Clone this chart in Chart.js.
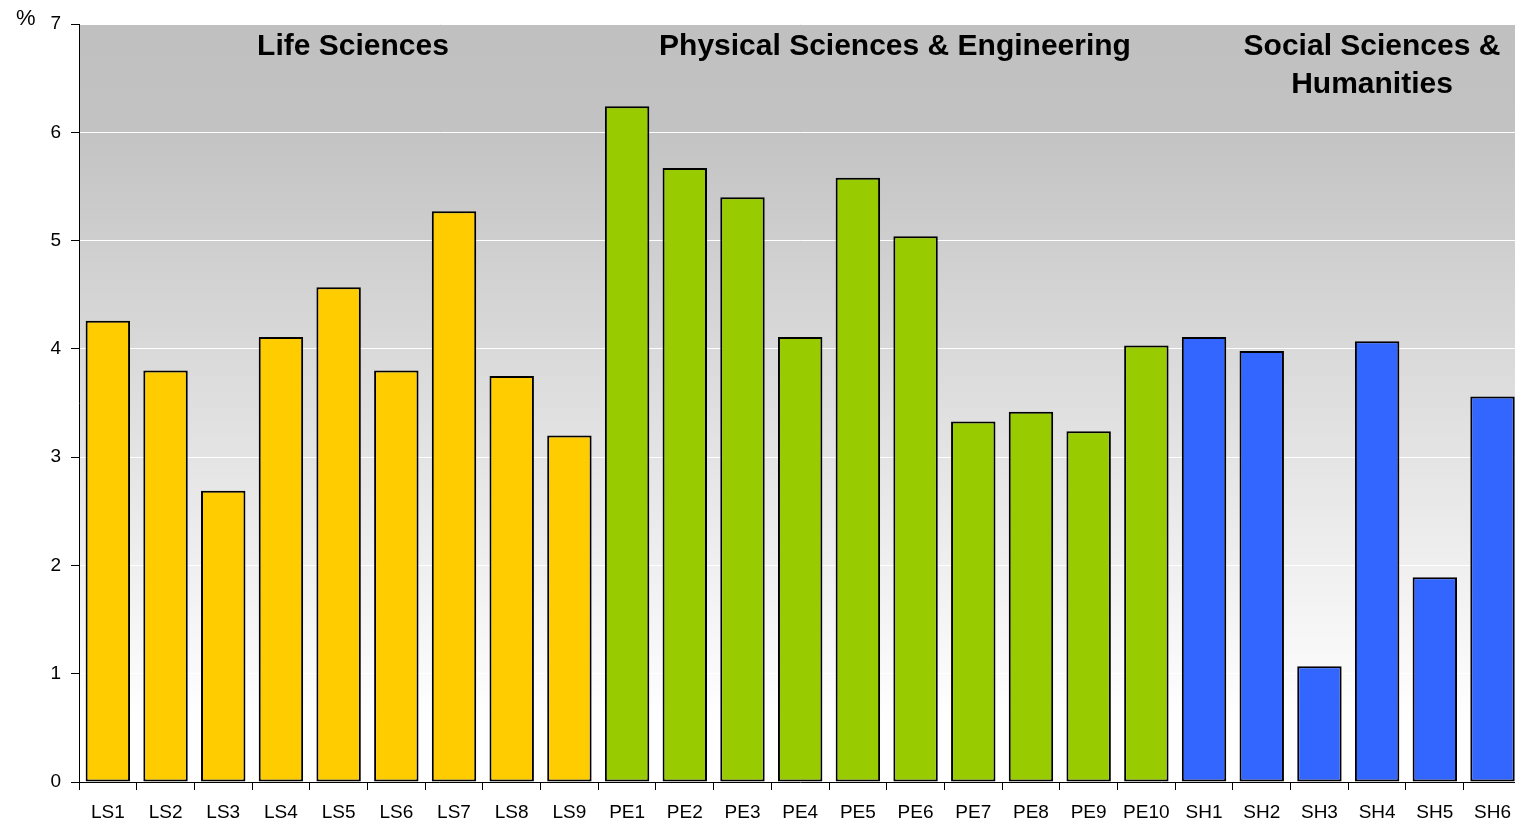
<!DOCTYPE html>
<html>
<head>
<meta charset="utf-8">
<script src="https://cdn.jsdelivr.net/npm/chart.js@4"></script>
<style>
  html, body { margin: 0; padding: 0; background: #fff; overflow: hidden; }
  #wrap { width: 1522px; height: 824px; position: relative; }
</style>
</head>
<body>
<div id="wrap"><canvas id="chart"></canvas></div>
<script>
// Share by panel (%)
const categories = ['LS1', 'LS2', 'LS3', 'LS4', 'LS5', 'LS6', 'LS7', 'LS8', 'LS9',
    'PE1', 'PE2', 'PE3', 'PE4', 'PE5', 'PE6', 'PE7', 'PE8', 'PE9', 'PE10',
    'SH1', 'SH2', 'SH3', 'SH4', 'SH5', 'SH6'];
const values = [4.26, 3.80, 2.69, 4.11, 4.57, 3.80, 5.27, 3.75, 3.20,
    6.24, 5.67, 5.40, 4.11, 5.58, 5.04, 3.33, 3.42, 3.24, 4.03,
    4.11, 3.98, 1.07, 4.07, 1.89, 3.56];
const groups = ['LS', 'PE', 'SH'];
const groupColors = { LS: '#ffcc00', PE: '#99cc00', SH: '#3366ff' };
const groupTitles = [
    { lines: ['Life Sciences'], x: 353 },
    { lines: ['Physical Sciences & Engineering'], x: 895 },
    { lines: ['Social Sciences &', 'Humanities'], x: 1372 }
];

const barColors = categories.map(c => groupColors[groups.find(g => c.startsWith(g))]);

const backgroundPlugin = {
    id: 'plotBackground',
    beforeDraw(chart) {
        const { ctx, chartArea: a } = chart;
        const grad = ctx.createLinearGradient(0, a.top, 0, a.bottom);
        grad.addColorStop(0, '#c0c0c0');
        grad.addColorStop(0.13, '#c2c2c2');
        grad.addColorStop(0.92, '#ffffff');
        grad.addColorStop(1, '#ffffff');
        ctx.save();
        ctx.fillStyle = grad;
        ctx.fillRect(a.left, a.top, a.right - a.left, a.bottom - a.top);
        ctx.restore();
    }
};

const titlesPlugin = {
    id: 'groupTitles',
    afterDatasetsDraw(chart) {
        const { ctx } = chart;
        ctx.save();
        ctx.font = 'bold 30px "Liberation Sans", Arial, sans-serif';
        ctx.fillStyle = '#000';
        ctx.textAlign = 'center';
        ctx.textBaseline = 'middle';
        groupTitles.forEach(t => {
            t.lines.forEach((line, i) => ctx.fillText(line, t.x, 47 + i * 38));
        });
        // unit label
        ctx.font = '22px "Liberation Sans", Arial, sans-serif';
        ctx.textAlign = 'left';
        ctx.fillText('%', 16, 19);
        ctx.restore();
    }
};

new Chart(document.getElementById('chart'), {
    type: 'bar',
    data: {
        labels: categories,
        datasets: [{
            data: values,
            backgroundColor: barColors,
            borderColor: '#000',
            borderWidth: 2,
            borderSkipped: false,
            barPercentage: 0.77,
            categoryPercentage: 1.0
        }]
    },
    options: {
        responsive: true,
        maintainAspectRatio: false,
        animation: false,
        layout: { padding: { top: 24, right: 0, bottom: 0, left: 0 } },
        plugins: {
            legend: { display: false },
            tooltip: { enabled: false }
        },
        scales: {
            x: {
                afterFit(scale) { scale.height = 42; },
                grid: {
                    offset: true,
                    drawOnChartArea: false,
                    drawTicks: true,
                    tickLength: 8,
                    tickColor: '#000'
                },
                border: { color: '#000', width: 1 },
                ticks: {
                    color: '#000',
                    padding: 11,
                    maxRotation: 0,
                    autoSkip: false,
                    font: { family: '"Liberation Sans", Arial, sans-serif', size: 19 }
                }
            },
            y: {
                min: 0,
                max: 7,
                afterFit(scale) { scale.width = 79; },
                grid: {
                    color: '#ffffff',
                    lineWidth: 1,
                    tickLength: 8,
                    tickColor: '#000'
                },
                border: { color: '#000', width: 1 },
                ticks: {
                    stepSize: 1,
                    color: '#000',
                    padding: 10,
                    font: { family: '"Liberation Sans", Arial, sans-serif', size: 19 }
                }
            }
        }
    },
    plugins: [backgroundPlugin, titlesPlugin]
});
</script>
</body>
</html>
